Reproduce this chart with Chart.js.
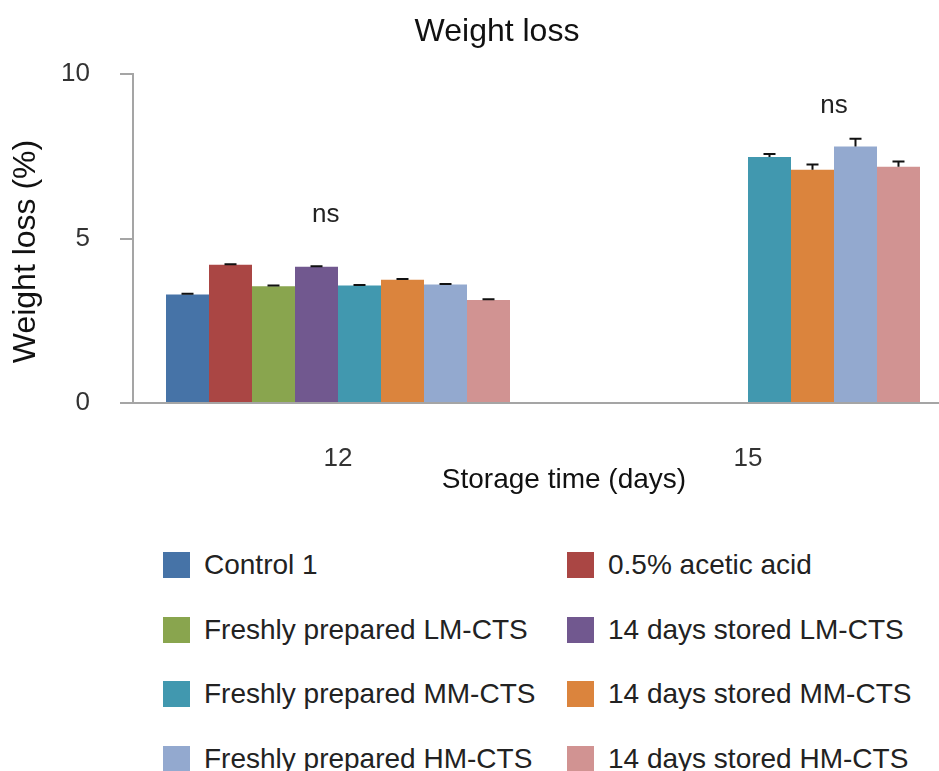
<!DOCTYPE html>
<html>
<head>
<meta charset="utf-8">
<title>Weight loss</title>
<script src="https://cdn.jsdelivr.net/npm/chart.js@4.4.1/dist/chart.umd.min.js"></script>
<style>
  html, body { margin: 0; padding: 0; background: #fff; overflow: hidden; width: 939px; height: 771px; }
  #wrap { position: absolute; left: 0; top: 0; width: 994px; height: 500px; }
  #legend {
    position: absolute; left: 163px; top: 552px;
    display: grid; grid-template-columns: 404px auto; grid-auto-rows: 64.7px;
    font: 28px "Liberation Sans", Arial, sans-serif; color: #222;
  }
  .item { display: flex; align-items: center; height: 26px; white-space: nowrap; }
  .box { width: 27px; height: 26px; margin-right: 14px; flex: none; }
</style>
</head>
<body>
<div id="wrap"><canvas id="weightChart"></canvas></div>
<div id="legend"></div>

<script>
const FONT = '"Liberation Sans", Arial, sans-serif';

// storage time (days)
const categories = ['12', '15'];

// weight loss (%) per treatment, null = not measured
const control1 = [3.30, null];
const aceticAcid = [4.20, null];
const freshLM = [3.55, null];
const storedLM = [4.14, null];
const freshMM = [3.57, 7.48];
const storedMM = [3.75, 7.09];
const freshHM = [3.60, 7.80];
const storedHM = [3.13, 7.18];

// standard errors
const control1Err = [0.02, null];
const aceticAcidErr = [0.02, null];
const freshLMErr = [0.02, null];
const storedLMErr = [0.02, null];
const freshMMErr = [0.02, 0.09];
const storedMMErr = [0.02, 0.16];
const freshHMErr = [0.02, 0.23];
const storedHMErr = [0.02, 0.16];

const seriesNames = [
  'Control 1', '0.5% acetic acid',
  'Freshly prepared LM-CTS', '14 days stored LM-CTS',
  'Freshly prepared MM-CTS', '14 days stored MM-CTS',
  'Freshly prepared HM-CTS', '14 days stored HM-CTS'
];
const seriesValues = [control1, aceticAcid, freshLM, storedLM, freshMM, storedMM, freshHM, storedHM];
const seriesErrors = [control1Err, aceticAcidErr, freshLMErr, storedLMErr, freshMMErr, storedMMErr, freshHMErr, storedHMErr];
const seriesColors = ['#4673a7', '#aa4644', '#89a54e', '#71588f', '#4198af', '#db843d', '#93a9cf', '#d19392'];

const yTicks = [0, 5, 10];

// "ns" marks: category, height in y units, shift as part of the category width
const nsMarks = [
  { cat: '12', y: 5.72, shift: -0.03 },
  { cat: '15', y: 9.02, shift: 0.21 }
];

const datasets = seriesNames.map((name, i) => ({
  label: name,
  data: seriesValues[i],
  errors: seriesErrors[i],
  backgroundColor: seriesColors[i],
  borderWidth: 0
}));

// error bars (upper half only, like the original)
const errorBars = {
  id: 'errorBars',
  afterDatasetsDraw(chart) {
    const ctx = chart.ctx;
    const y = chart.scales.y;
    chart.data.datasets.forEach((ds, i) => {
      chart.getDatasetMeta(i).data.forEach((bar, j) => {
        const v = ds.data[j];
        const e = ds.errors[j];
        if (v == null || e == null) return;
        const top = y.getPixelForValue(v + e);
        ctx.save();
        ctx.strokeStyle = '#111';
        ctx.lineWidth = 2;
        ctx.beginPath();
        ctx.moveTo(bar.x, bar.y);
        ctx.lineTo(bar.x, top);
        ctx.moveTo(bar.x - 6, top);
        ctx.lineTo(bar.x + 6, top);
        ctx.stroke();
        ctx.restore();
      });
    });
  }
};

// chart title, "ns" labels and the axis titles
const extraText = {
  id: 'extraText',
  afterDraw(chart) {
    const ctx = chart.ctx;
    const x = chart.scales.x;
    const y = chart.scales.y;
    const catWidth = (x.right - x.left) / categories.length;
    ctx.save();
    ctx.textAlign = 'center';
    ctx.textBaseline = 'middle';
    ctx.fillStyle = '#111';
    ctx.font = '32px ' + FONT;
    ctx.fillText('Weight loss', chart.width / 2, 13 + 19.2);
    ctx.fillStyle = '#222';
    ctx.font = '26px ' + FONT;
    nsMarks.forEach(m => {
      const px = x.getPixelForValue(categories.indexOf(m.cat)) + m.shift * catWidth;
      ctx.fillText('ns', px, y.getPixelForValue(m.y));
    });
    ctx.fillStyle = '#111';
    ctx.font = '28px ' + FONT;
    ctx.fillText('Storage time (days)', (x.left + x.right) / 2 + 21, 480);
    ctx.translate(26, (y.top + y.bottom) / 2 + 13);
    ctx.rotate(-Math.PI / 2);
    ctx.font = '32px ' + FONT;
    ctx.fillText('Weight loss (%)', 0, 0);
    ctx.restore();
  }
};

new Chart(document.getElementById('weightChart'), {
  type: 'bar',
  data: { labels: categories, datasets: datasets },
  plugins: [errorBars, extraText],
  options: {
    responsive: true,
    maintainAspectRatio: false,
    animation: false,
    layout: { padding: { left: 0, right: 41, top: 0, bottom: 0 } },
    datasets: { bar: { categoryPercentage: 0.839, barPercentage: 1.0 } },
    plugins: {
      legend: { display: false },
      tooltip: { enabled: false },
      // keeps the space for the title, which is drawn by extraText
      title: {
        display: true,
        text: 'Weight loss',
        color: 'rgba(0,0,0,0)',
        font: { family: FONT, size: 32, weight: 'normal' },
        padding: { top: 13, bottom: 22.6 }
      }
    },
    scales: {
      x: {
        grid: { display: true, drawOnChartArea: false, drawTicks: false },
        border: { display: true, color: '#a5a5a5', width: 2 },
        ticks: { color: '#333', padding: 40, font: { family: FONT, size: 26 } },
        afterFit(scale) { scale.height = 97; }
      },
      y: {
        min: 0,
        max: 10,
        afterBuildTicks(scale) { scale.ticks = yTicks.map(v => ({ value: v })); },
        grid: { display: true, drawOnChartArea: false, drawTicks: true, tickLength: 13, color: '#a5a5a5', lineWidth: 2 },
        border: { display: true, color: '#a5a5a5', width: 2 },
        ticks: { color: '#333', padding: 30, font: { family: FONT, size: 26 } },
        afterFit(scale) { scale.width = 133; }
      }
    }
  }
});

// legend in two columns, built from the same series lists
const legend = document.getElementById('legend');
seriesNames.forEach((name, i) => {
  const item = document.createElement('div');
  item.className = 'item';
  const box = document.createElement('span');
  box.className = 'box';
  box.style.background = seriesColors[i];
  const label = document.createElement('span');
  label.textContent = name;
  item.appendChild(box);
  item.appendChild(label);
  legend.appendChild(item);
});
</script>
</body>
</html>
